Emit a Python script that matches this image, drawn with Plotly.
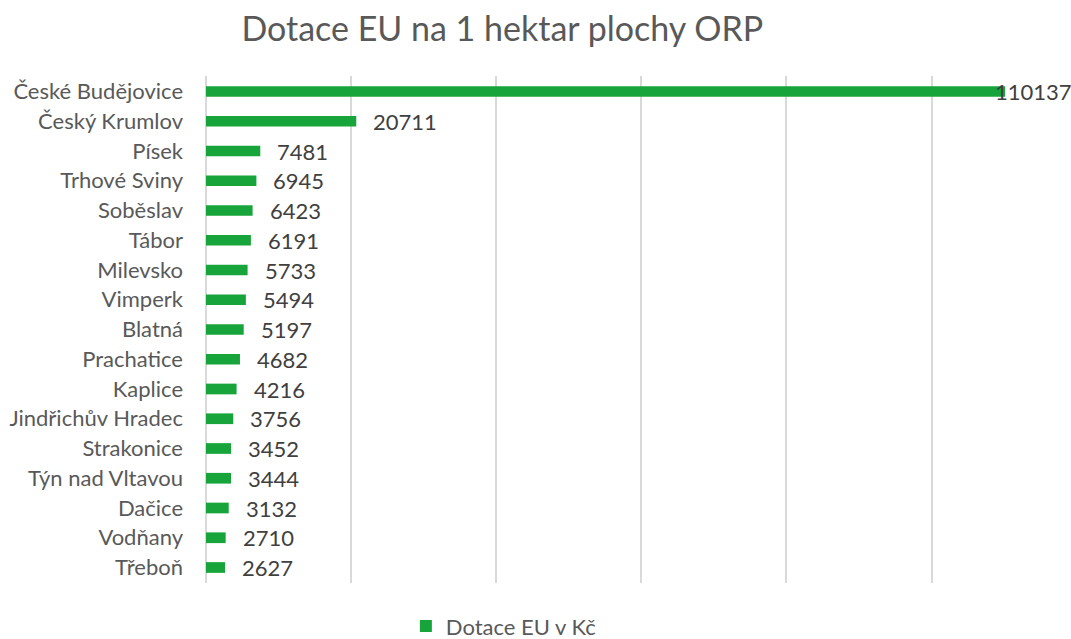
import plotly.graph_objects as go

categories = ["České Budějovice", "Český Krumlov", "Písek", "Trhové Sviny", "Soběslav",
              "Tábor", "Milevsko", "Vimperk", "Blatná", "Prachatice", "Kaplice",
              "Jindřichův Hradec", "Strakonice", "Týn nad Vltavou", "Dačice",
              "Vodňany", "Třeboň"]
values = [110137, 20711, 7481, 6945, 6423, 6191, 5733, 5494, 5197, 4682, 4216,
          3756, 3452, 3444, 3132, 2710, 2627]
series_name = "Dotace EU v Kč"
title_text = "Dotace EU na 1 hektar plochy ORP"

FONT = "Lato"
GREEN = "#17A53B"
LBL = 22

fig = go.Figure()
fig.add_trace(go.Bar(
    x=values, y=categories, orientation="h", name=series_name,
    marker=dict(color=GREEN, line=dict(width=0)),
))

annotations = []
for i, (c, v) in enumerate(zip(categories, values)):
    shift = -12 if i == 0 else 15
    annotations.append(dict(x=v, y=c, xref="x", yref="y", text=str(v),
                            showarrow=False, xanchor="left", xshift=shift,
                            font=dict(family=FONT, size=LBL, color="#404040")))

fig.update_layout(
    width=1071, height=639,
    paper_bgcolor="white", plot_bgcolor="white",
    margin=dict(l=206, r=64, t=76, b=56, autoexpand=False),
    bargap=0.64,
    title=dict(text=title_text, x=0.469, xanchor="center", y=0.955, yanchor="middle",
               font=dict(family=FONT, size=34, color="#595959")),
    showlegend=True,
    legend=dict(orientation="h", xref="container", yref="container",
                x=0.47, xanchor="center", y=0.02, yanchor="middle",
                font=dict(family=FONT, size=LBL, color="#595959")),
    annotations=annotations,
    xaxis=dict(range=[0, 110400], dtick=20000, showticklabels=False, automargin=False,
               showgrid=True, gridcolor="#D9D9D9", gridwidth=2,
               zeroline=True, zerolinecolor="#D9D9D9", zerolinewidth=2,
               showline=False, fixedrange=True),
    yaxis=dict(autorange="reversed", showgrid=False, showline=False, ticks="",
               ticklabelstandoff=22, fixedrange=True, automargin=False,
               tickfont=dict(family=FONT, size=LBL, color="#595959")),
)

fig.write_html("out.html", config={"displayModeBar": False},
               post_script="document.body.style.margin='0';document.body.style.padding='0';")
